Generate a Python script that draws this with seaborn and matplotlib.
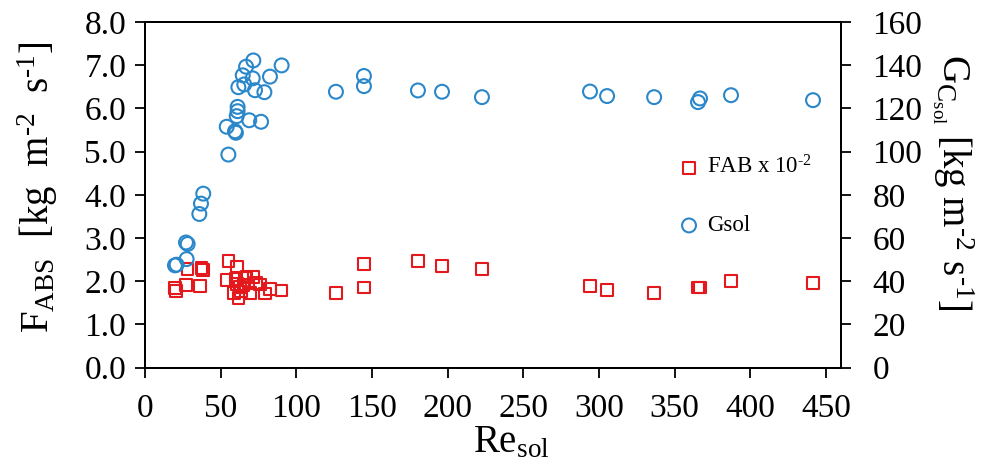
import matplotlib
matplotlib.use("Agg")
import matplotlib.pyplot as plt
import seaborn as sns
import pandas as pd

# ---- data ----
re_fab = [19.8, 20.5, 27.1, 28.2, 36.4, 37.4, 38.5,
          55.1, 61.0, 53.8, 60.0, 60.6, 58.8, 61.7, 62.8, 66.1, 67.2, 65.0, 69.4,
          71.6, 73.4, 76.0, 79.3, 82.6, 90.3, 63.4,
          126.2, 144.7, 144.7, 180.4, 196.3, 222.7, 294.1, 305.4, 336.5, 365.5,
          366.8, 387.3, 441.5]
fab = [1.84, 1.77, 1.91, 2.28, 1.89, 2.30, 2.26,
       2.47, 2.34, 2.03, 2.05, 1.93, 1.72, 1.61, 1.87, 2.08, 2.11, 1.91, 1.72,
       2.10, 1.95, 1.92, 1.71, 1.82, 1.78, 1.76,
       1.72, 2.40, 1.85, 2.46, 2.35, 2.28, 1.88, 1.80, 1.72, 1.85,
       1.85, 2.01, 1.95]

re_g = [19.8, 20.9, 27.5, 27.1, 28.2, 35.9, 37.0, 38.5, 55.1, 54.0, 59.5, 60.1,
        60.6, 61.2, 61.2, 68.9, 76.7, 61.7, 65.6, 64.6, 66.8, 71.6, 71.2, 72.7,
        78.9, 82.6, 90.3, 126.2, 144.7, 144.7, 180.4, 196.3, 222.7, 294.1, 305.4,
        336.5, 366.8, 365.5, 387.3, 441.5]
gsol = [47.3, 47.6, 50.2, 57.9, 57.2, 71.1, 75.9, 80.5, 98.6, 111.5, 109.4, 108.7,
        116.4, 118.7, 120.7, 114.5, 113.8, 129.8, 131.1, 135.3, 139.3, 142.2, 133.9, 128.4,
        127.5, 134.7, 139.9, 127.7, 135.0, 130.3, 128.3, 127.7, 125.2, 127.8, 125.7,
        125.2, 124.6, 122.9, 126.1, 123.8]

left_ticks = [0, 1, 2, 3, 4, 5, 6, 7, 8]
right_ticks = [0, 20, 40, 60, 80, 100, 120, 140, 160]
x_ticks = [0, 50, 100, 150, 200, 250, 300, 350, 400, 450]

df_fab = pd.DataFrame({"Re": re_fab, "FAB": fab})
df_g = pd.DataFrame({"Re": re_g, "G": gsol})

sns.set_style("white")
plt.rcParams["font.family"] = ["Liberation Serif", "DejaVu Serif"]
plt.rcParams["mathtext.fontset"] = "custom"
plt.rcParams["mathtext.rm"] = "Liberation Serif"
plt.rcParams["mathtext.it"] = "Liberation Serif:italic"
plt.rcParams["text.color"] = "black"
plt.rcParams["axes.labelcolor"] = "black"

RED = "#e3191e"
BLUE = "#2a87c9"
HY = "\u2010"  # hyphen used in the superscripts

fig = plt.figure(figsize=(9.84, 4.73), dpi=100)
ax = fig.add_axes([145/984, 1-367.5/473, (841-145)/984, (367.5-22)/473])
ax2 = ax.twinx()

sns.scatterplot(data=df_fab, x="Re", y="FAB", ax=ax, marker="s", s=70,
                facecolors="none", edgecolor=RED, linewidth=1.5, color=RED,
                label=r"FAB x 10$^{\mathrm{" + HY + "2}}$", legend=False, zorder=3)
sns.scatterplot(data=df_g, x="Re", y="G", ax=ax2, marker="o", s=100,
                facecolors="none", edgecolor=BLUE, linewidth=1.5, color=BLUE,
                label="Gsol", legend=False, zorder=3)

ax.set_xlim(0, 460)
ax.set_ylim(0, 8)
ax2.set_ylim(0, 160)
ax.set_xticks(x_ticks)
ax.set_yticks(left_ticks)
ax.set_yticklabels([f"{v:.1f}" for v in left_ticks])
ax2.set_yticks(right_ticks)
ax2.set_yticklabels([str(v) for v in right_ticks])

for a in (ax, ax2):
    for sp in a.spines.values():
        sp.set_color("black")
        sp.set_linewidth(1.4)
        sp.set_visible(True)
ax.tick_params(axis="both", direction="out", length=7.5, width=1.3, labelsize=24,
               colors="black")
ax.tick_params(axis="y", left=True, right=False, pad=6)
ax.tick_params(axis="x", bottom=True, top=False, pad=11)
ax2.tick_params(axis="y", direction="out", length=7.5, width=1.3, labelsize=24,
                right=True, colors="black", pad=15)

sup2 = r"$^{\mathrm{" + HY + "2}}$"
sup1 = r"$^{\mathrm{" + HY + "1}}$"
ax.set_xlabel(r"Re$_{\mathrm{sol}}$", fontsize=28, va="top", color="black")
ax.xaxis.set_label_coords(0.526, -0.163)
ax.set_ylabel(r"F$_{\mathrm{ABS}}$  [kg  m" + sup2 + "  s" + sup1 + "]",
              fontsize=28, va="top", color="black")
ax.yaxis.set_label_coords((16 - 145) / 696, 0.521)
ax2.set_ylabel(r"G$_{\mathrm{C}_{\mathrm{sol}}}$ [kg m" + sup2 + " s" + sup1 + "]",
               fontsize=28, rotation=270, va="bottom", ha="center", color="black")
ax2.yaxis.set_label_coords((930 - 145) / 696, 0.5355)

h1, l1 = ax.get_legend_handles_labels()
h2, l2 = ax2.get_legend_handles_labels()
leg = ax2.legend(h1 + h2, l1 + l2, loc="upper left", bbox_to_anchor=(0.752, 0.64),
                 frameon=False, fontsize=16.5, handlelength=1.0, handletextpad=0.3,
                 labelspacing=1.6, borderaxespad=0)
for t in leg.get_texts():
    t.set_color("black")

fig.savefig("out.png", dpi=100)
